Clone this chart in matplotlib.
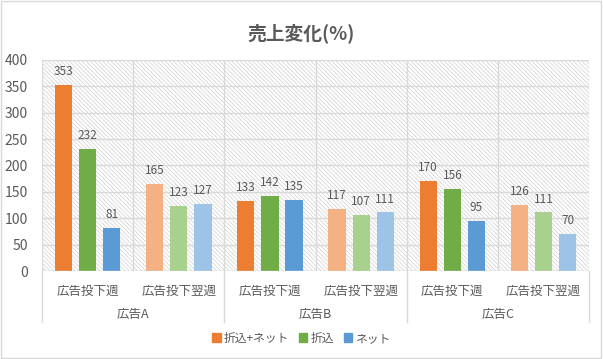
import matplotlib
matplotlib.use('Agg')
import matplotlib.pyplot as plt
import matplotlib.transforms as mtransforms
from matplotlib.patches import Rectangle
import numpy as np

plt.rcParams['font.family'] = ['Noto Sans CJK JP', 'DejaVu Sans']
plt.rcParams['hatch.linewidth'] = 0.5
plt.rcParams['hatch.color'] = '#CFCFCF'

# データ
groups = ['広告A', '広告B', '広告C']
weeks = ['広告投下週', '広告投下翌週']
series = ['折込+ネット', '折込', 'ネット']
orikomi_net = [353, 165, 133, 117, 170, 126]
orikomi = [232, 123, 142, 107, 156, 111]
net = [81, 127, 135, 111, 95, 70]

dark = ['#ED7D31', '#70AD47', '#5B9BD5']
light = ['#F4B183', '#A9D18E', '#9DC3E6']
text_gray = '#595959'
grid_gray = '#D9D9D9'

fig = plt.figure(figsize=(6.03, 3.59), dpi=100)
ax = fig.add_axes([0.0697, 0.245, 0.9073, 0.588])

# 斜線の背景
bg = Rectangle((0, 0), 1, 1, transform=ax.transAxes, facecolor='white',
               edgecolor='#CFCFCF', hatch='\\' * 8, linewidth=0, zorder=0)
ax.add_patch(bg)

x = np.arange(len(orikomi_net))
offsets = [-0.265, 0, 0.265]
width = 0.19
values = [orikomi_net, orikomi, net]
for k, vals in enumerate(values):
    colors = [dark[k] if i % 2 == 0 else light[k] for i in x]
    bars = ax.bar(x + offsets[k], vals, width, color=colors, zorder=3)
    ax.bar_label(bars, padding=5, fontsize=8.5, color=text_gray)

ax.set_xlim(-0.5, 5.5)
ax.set_ylim(0, 400)
ax.set_yticks(range(0, 401, 50))
ax.set_xticks(x)
ax.set_xticklabels(weeks * 3)
ax.set_xticks(np.arange(-0.5, 6, 1), minor=True)
ax.tick_params(axis='x', which='both', length=0, pad=10, labelsize=9, colors=text_gray)
ax.tick_params(axis='y', length=0, pad=10, labelsize=10, colors=text_gray)
ax.grid(axis='y', color=grid_gray, linewidth=1, zorder=1)
ax.grid(axis='x', which='minor', color=grid_gray, linewidth=1, zorder=1)
for s in ax.spines.values():
    s.set_visible(False)
ax.axhline(0, color=grid_gray, linewidth=1, zorder=4)

# グループの区切りとラベル
trans = mtransforms.blended_transform_factory(ax.transData, ax.transAxes)
for b in [-0.5, 1.5, 3.5, 5.5]:
    ax.plot([b, b], [0, -0.24], color=grid_gray, linewidth=1, transform=trans, clip_on=False)
for g, name in enumerate(groups):
    ax.text(2 * g + 0.5, -0.205, name, transform=trans, ha='center', va='center',
            fontsize=9, color=text_gray)

fig.suptitle('売上変化(%)', x=0.5, y=0.935, fontsize=13.5, fontweight='bold', color=text_gray)

handles = [Rectangle((0, 0), 1, 1, color=c) for c in dark]
fig.legend(handles, series, loc='center', bbox_to_anchor=(0.5, 0.058), ncol=3,
           frameon=False, fontsize=8.5, handlelength=0.7, handleheight=0.7,
           handletextpad=0.3, columnspacing=0.8, labelcolor=text_gray)

# 外枠
fig.patches.append(Rectangle((0.002, 0.003), 0.995, 0.993, transform=fig.transFigure,
                             fill=False, edgecolor='#D9D9D9', linewidth=1))

plt.savefig('out.png', dpi=100)
plt.close()
